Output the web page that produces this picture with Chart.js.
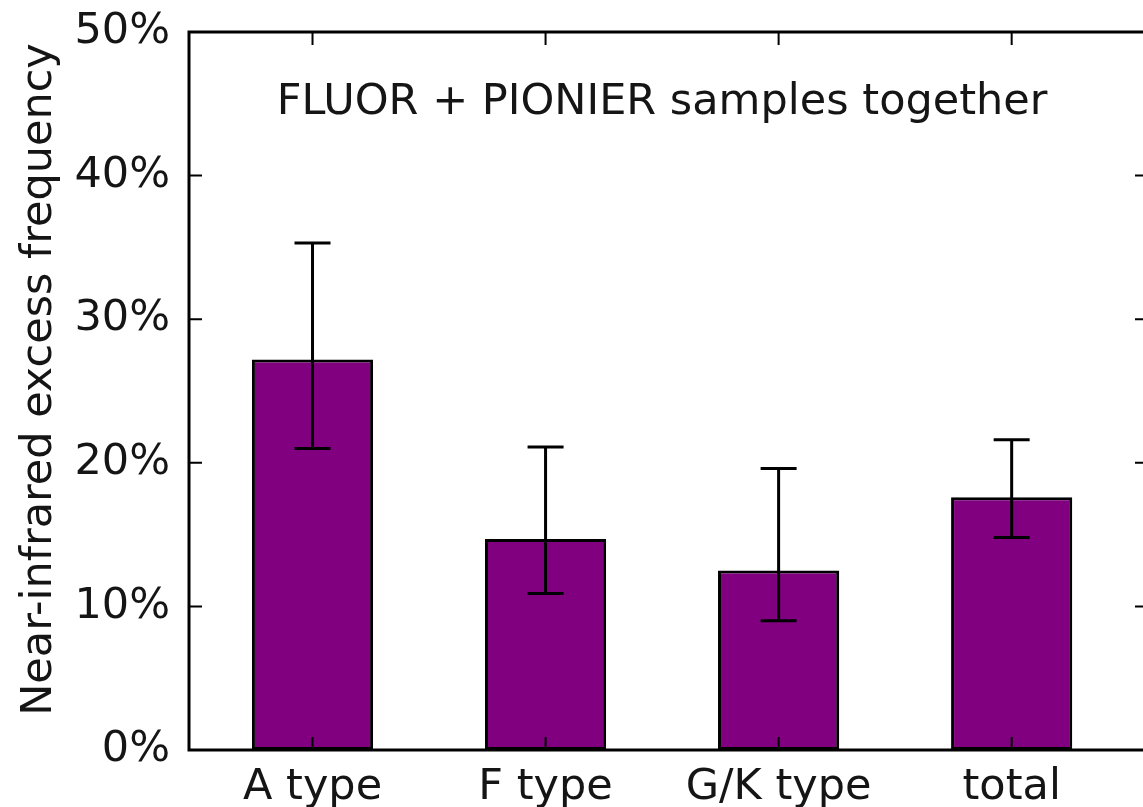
<!DOCTYPE html>
<html lang="en">
<head>
    <meta charset="UTF-8">
    <title>Near-infrared excess frequency</title>
    <script src="https://cdn.jsdelivr.net/npm/chart.js"></script>
    <style>
        html, body {
            margin: 0;
            padding: 0;
            background: #fff;
            overflow: hidden;
        }
        #wrap {
            width: 1160px;
            height: 807px;
        }
    </style>
</head>
<body>
<div id="wrap"><canvas id="freqChart"></canvas></div>
<script>
    // spectral types and their excess frequency (%), with error bar bounds
    const categories = ['A type', 'F type', 'G/K type', 'total'];
    const frequency = [27.2, 14.7, 12.5, 17.6];
    const errLower = [21.0, 10.9, 9.0, 14.8];
    const errUpper = [35.3, 21.1, 19.6, 21.6];
    const yTicks = [0, 10, 20, 30, 40, 50];
    const yTitle = 'Near-infrared excess frequency';
    const panelNote = 'FLUOR + PIONIER samples together';

    const FONT = 'DejaVu Sans';
    const INK = '#151515';

    Chart.defaults.font.family = FONT;
    Chart.defaults.font.size = 43;
    Chart.defaults.color = INK;

    // vertical error bars with caps, drawn on top of the bars
    const errorBars = {
        id: 'errorBars',
        afterDatasetsDraw(chart) {
            const {ctx, scales: {x, y}} = chart;
            ctx.save();
            ctx.strokeStyle = '#000';
            ctx.lineWidth = 3;
            errLower.forEach((lo, i) => {
                const px = x.getPixelForValue(i);
                const top = y.getPixelForValue(errUpper[i]);
                const bot = y.getPixelForValue(lo);
                ctx.beginPath();
                ctx.moveTo(px, top);
                ctx.lineTo(px, bot);
                ctx.moveTo(px - 18, top);
                ctx.lineTo(px + 18, top);
                ctx.moveTo(px - 18, bot);
                ctx.lineTo(px + 18, bot);
                ctx.stroke();
            });
            ctx.restore();
        }
    };

    // box around the plot with inward ticks, the panel note and the y title
    const frame = {
        id: 'frame',
        afterDraw(chart) {
            const {ctx, chartArea: a, scales: {x, y}} = chart;
            ctx.save();
            ctx.strokeStyle = '#000';
            ctx.lineWidth = 2;
            ctx.beginPath();
            yTicks.forEach(v => {
                const py = y.getPixelForValue(v);
                ctx.moveTo(a.left, py);
                ctx.lineTo(a.left + 13, py);
                ctx.moveTo(a.right, py);
                ctx.lineTo(a.right - 13, py);
            });
            categories.forEach((c, i) => {
                const px = x.getPixelForValue(i);
                ctx.moveTo(px, a.top);
                ctx.lineTo(px, a.top + 13);
                ctx.moveTo(px, a.bottom);
                ctx.lineTo(px, a.bottom - 13);
            });
            ctx.stroke();

            ctx.lineWidth = 3;
            ctx.strokeRect(a.left, a.top, a.right - a.left, a.bottom - a.top);

            ctx.fillStyle = INK;
            ctx.textAlign = 'center';
            ctx.textBaseline = 'middle';
            ctx.font = '43px "' + FONT + '"';
            ctx.fillText(panelNote, x.getPixelForValue(1.5), y.getPixelForValue(45.1));

            ctx.translate(40, y.getPixelForValue(25.8));
            ctx.rotate(-Math.PI / 2);
            ctx.fillText(yTitle, 0, 0);
            ctx.restore();
        }
    };

    new Chart(document.getElementById('freqChart'), {
        type: 'bar',
        data: {
            datasets: [{
                data: frequency.map((v, i) => ({x: i, y: v})),
                backgroundColor: '#800080',
                borderColor: '#000',
                borderWidth: 3,
                borderSkipped: false,
                categoryPercentage: 1,
                barPercentage: 0.52
            }]
        },
        options: {
            responsive: true,
            maintainAspectRatio: false,
            animation: false,
            layout: {padding: {top: 32, right: 12, left: 0, bottom: 0}},
            plugins: {
                legend: {display: false},
                tooltip: {enabled: false}
            },
            scales: {
                x: {
                    type: 'linear',
                    offset: false,
                    min: -0.53,
                    max: 3.585,
                    grid: {display: false, offset: false},
                    border: {display: false},
                    afterBuildTicks: s => { s.ticks = categories.map((c, i) => ({value: i})); },
                    afterFit: s => { s.height = 57; },
                    ticks: {
                        callback: v => categories[v],
                        padding: 4,
                        maxRotation: 0,
                        autoSkip: false
                    }
                },
                y: {
                    min: 0,
                    max: 50,
                    grid: {display: false},
                    border: {display: false},
                    afterBuildTicks: s => { s.ticks = yTicks.map(v => ({value: v})); },
                    afterFit: s => {
                        s.width = 189;
                        s.paddingTop = 0;
                        s.paddingBottom = 0;
                    },
                    ticks: {
                        callback: v => v + '%',
                        padding: 11
                    }
                }
            }
        },
        plugins: [errorBars, frame]
    });
</script>
</body>
</html>
